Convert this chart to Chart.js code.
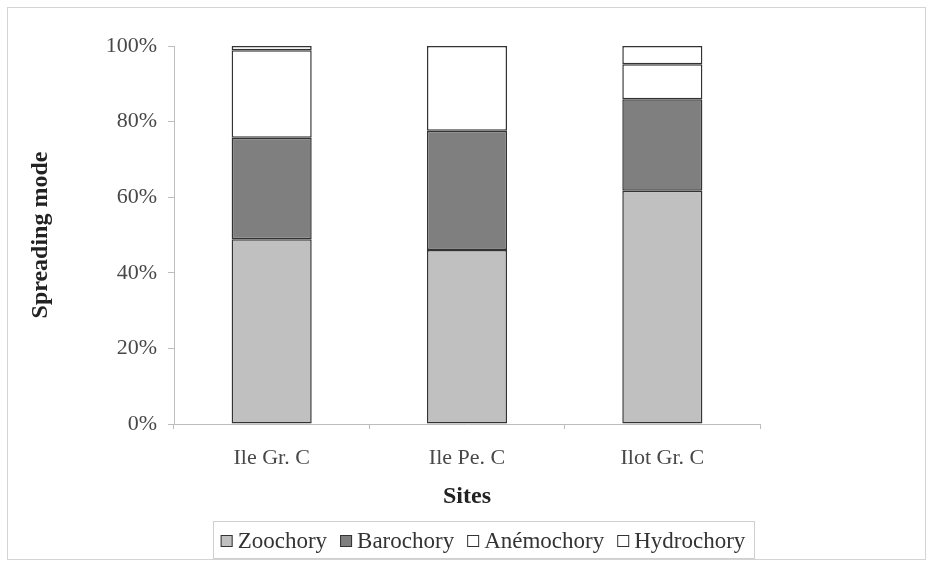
<!DOCTYPE html>
<html>
<head>
<meta charset="utf-8">
<script src="https://cdn.jsdelivr.net/npm/chart.js@4/dist/chart.umd.min.js"></script>
<style>
  html, body { margin: 0; padding: 0; background: #ffffff; }
  #wrap { width: 933px; height: 566px; position: relative; }
</style>
</head>
<body>
<div id="wrap"><canvas id="chart" width="933" height="566"></canvas></div>
<script>
// Sites and share of each seed-spreading mode (percent of species)
const sites = ['Ile Gr. C', 'Ile Pe. C', 'Ilot Gr. C'];
const zoochory   = [48.9, 46.0, 61.7];
const barochory  = [26.8, 31.6, 24.2];
const anemochory = [23.2, 22.4, 9.3];
const hydrochory = [1.1, 0.0, 4.8];
const yTicks = [0, 20, 40, 60, 80, 100];

const SERIF = '"Liberation Serif", "Times New Roman", serif';
const INK = '#333333';

// Light frame around the whole figure
const framePlugin = {
  id: 'frame',
  beforeDraw(chart) {
    const ctx = chart.ctx;
    ctx.save();
    ctx.fillStyle = '#ffffff';
    ctx.fillRect(0, 0, chart.width, chart.height);
    ctx.strokeStyle = '#d4d4d4';
    ctx.lineWidth = 1;
    ctx.strokeRect(7.5, 7.5, chart.width - 15, chart.height - 14);
    ctx.restore();
  }
};

// Boxed legend under the "Sites" title
const boxedLegend = {
  id: 'boxedLegend',
  afterDraw(chart) {
    const ctx = chart.ctx;
    const sets = chart.data.datasets;
    ctx.save();
    ctx.font = '23px ' + SERIF;
    const sq = 12, gapAfterSq = 5, gapItems = 13;
    const widths = sets.map(d => sq + gapAfterSq + ctx.measureText(d.label).width);
    const total = widths.reduce((a, b) => a + b, 0) + gapItems * (sets.length - 1);
    const cx = 483, cy = 541;
    let x = cx - total / 2;
    // outer box
    ctx.strokeStyle = '#cfcfcf';
    ctx.lineWidth = 1;
    ctx.strokeRect(Math.round(x - 8) + 0.5, 521.5, Math.round(total + 16), 37);
    sets.forEach((d, i) => {
      ctx.fillStyle = d.backgroundColor;
      ctx.fillRect(x, cy - sq / 2, sq, sq);
      ctx.strokeStyle = INK;
      ctx.lineWidth = 1;
      ctx.strokeRect(x + 0.5, cy - sq / 2 + 0.5, sq - 1, sq - 1);
      ctx.fillStyle = INK;
      ctx.textBaseline = 'middle';
      ctx.textAlign = 'left';
      ctx.fillText(d.label, x + sq + gapAfterSq, cy + 1);
      x += widths[i] + gapItems;
    });
    ctx.restore();
  }
};

function series(label, data, color) {
  return {
    label, data,
    backgroundColor: color,
    borderColor: INK,
    borderWidth: 1.5,
    borderSkipped: false,
    barPercentage: 1,
    categoryPercentage: 0.41
  };
}

new Chart(document.getElementById('chart'), {
  type: 'bar',
  data: {
    labels: sites,
    datasets: [
      series('Zoochory', zoochory, '#c0c0c0'),
      series('Barochory', barochory, '#7f7f7f'),
      series('Anémochory', anemochory, '#ffffff'),
      series('Hydrochory', hydrochory, '#ffffff')
    ]
  },
  options: {
    responsive: false,
    animation: false,
    devicePixelRatio: 1,
    layout: { padding: { left: 10, right: 173, top: 46, bottom: 6 } },
    plugins: {
      legend: { display: false },
      tooltip: { enabled: false },
      title: { display: false }
    },
    scales: {
      x: {
        stacked: true,
        grid: {
          display: true,
          offset: true,
          drawOnChartArea: false,
          drawTicks: true,
          tickLength: 5,
          color: '#bdbdbd'
        },
        border: { display: true, color: '#bdbdbd', width: 1 },
        ticks: {
          color: '#484848',
          font: { family: SERIF, size: 22 },
          padding: 16,
          maxRotation: 0
        },
        title: {
          display: true,
          text: 'Sites',
          color: '#222222',
          font: { family: SERIF, size: 24, weight: 'bold' },
          padding: { top: 0, bottom: 49 }
        },
        afterFit(scale) { scale.height = 136; }
      },
      y: {
        stacked: true,
        min: 0,
        max: 100,
        afterBuildTicks(scale) { scale.ticks = yTicks.map(v => ({ value: v })); },
        grid: {
          display: true,
          drawOnChartArea: false,
          drawTicks: true,
          tickLength: 6,
          color: '#bdbdbd'
        },
        border: { display: true, color: '#bdbdbd', width: 1 },
        ticks: {
          color: '#484848',
          font: { family: SERIF, size: 22 },
          padding: 11,
          callback: v => v + '%'
        },
        title: {
          display: true,
          text: 'Spreading mode',
          color: '#222222',
          font: { family: SERIF, size: 24, weight: 'bold' },
          padding: { top: 16, bottom: 0 }
        },
        afterFit(scale) { scale.width = 164; }
      }
    }
  },
  plugins: [framePlugin, boxedLegend]
});
</script>
</body>
</html>
